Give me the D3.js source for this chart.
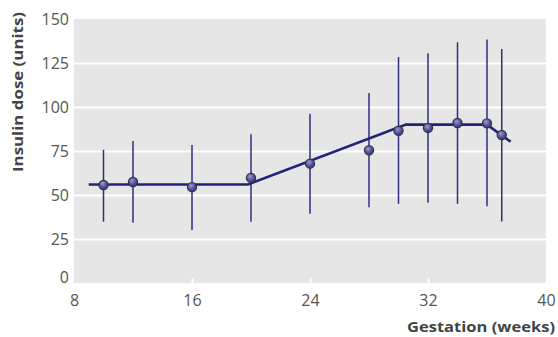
<!DOCTYPE html>
<html><head><meta charset="utf-8">
<script src="https://cdn.jsdelivr.net/npm/d3@7"></script>
<style>body{margin:0;background:#fff;}svg{display:block;}</style>
</head><body>
<svg id="c" width="558" height="337"></svg>
<script>
const weeks = [10, 12, 16, 20, 24, 28, 30, 32, 34, 36, 37];
const dose = [55.7, 57.4, 54.5, 59.7, 67.8, 75.4, 86.5, 88.1, 90.9, 90.7, 84.1];
const upper = [75.7, 80.7, 78.4, 84.5, 96.2, 108, 128.4, 130.5, 136.8, 138.4, 133];
const lower = [34.8, 34.3, 30.1, 34.8, 39.4, 43, 45, 45.6, 45, 43.6, 35];
const fitWeeks = [9, 19.8, 30.5, 36, 37.6];
const fitDose = [56, 56, 90, 90, 80.3];
const xTicks = [8, 16, 24, 32, 40];
const yTicks = [0, 25, 50, 75, 100, 125, 150];

const svg = d3.select("#c");
const L = 74, R = 546, T = 19, B = 283;
const x = d3.scaleLinear().domain([8, 40]).range([L, R]);
const y = d3.scaleLinear().domain([0, 150]).range([B, T]);

const defs = svg.append("defs");
const g = defs.append("radialGradient").attr("id", "pt").attr("cx", "40%").attr("cy", "35%").attr("r", "65%");
g.append("stop").attr("offset", "0%").attr("stop-color", "#9a9ad0");
g.append("stop").attr("offset", "60%").attr("stop-color", "#54549a");
g.append("stop").attr("offset", "100%").attr("stop-color", "#3a3a78");

svg.append("rect").attr("x", L).attr("y", T).attr("width", R - L).attr("height", B - T).attr("fill", "#e6e6e6");

// horizontal gridlines
const yAxis = d3.axisLeft(y).tickValues(yTicks).tickSize(-(R - L)).tickPadding(5);
const ya = svg.append("g").attr("transform", `translate(${L},0)`).call(yAxis);
ya.select(".domain").remove();
ya.selectAll(".tick line").attr("stroke", "#fff").attr("stroke-width", 2)
  .filter(d => d === 0 || d === 150).remove();
ya.selectAll(".tick text").attr("fill", "#555").style("font-family", "'Open Sans', sans-serif").style("font-size", "16px");
ya.selectAll(".tick text").filter(d => d === 0).attr("y", -6);

const xAxis = d3.axisBottom(x).tickValues(xTicks).tickSize(-5).tickPadding(12);
const xa = svg.append("g").attr("transform", `translate(0,${B})`).call(xAxis);
xa.select(".domain").remove();
xa.selectAll(".tick line").attr("stroke", "#fff").attr("stroke-width", 2)
  .filter(d => d === 8 || d === 40).remove();
xa.selectAll(".tick text").attr("fill", "#555").style("font-family", "'Open Sans', sans-serif").style("font-size", "16px");

// error bars
svg.append("g").selectAll("line").data(weeks).join("line")
  .attr("x1", d => x(d)).attr("x2", d => x(d))
  .attr("y1", (d, i) => y(lower[i])).attr("y2", (d, i) => y(upper[i]))
  .attr("stroke", "#2e2e80").attr("stroke-width", 1.5);

// fitted line
const line = d3.line().x(d => x(d[0])).y(d => y(d[1]));
svg.append("path").datum(fitWeeks.map((w, i) => [w, fitDose[i]]))
  .attr("d", line).attr("fill", "none").attr("stroke", "#22227a").attr("stroke-width", 2.6);

// points
svg.append("g").selectAll("circle").data(weeks).join("circle")
  .attr("cx", d => x(d)).attr("cy", (d, i) => y(dose[i])).attr("r", 4.6)
  .attr("fill", "url(#pt)").attr("stroke", "#333348").attr("stroke-width", 1.2);

svg.append("text").attr("x", 555).attr("y", 332).attr("text-anchor", "end")
  .attr("fill", "#444").style("font-family", "'Open Sans', sans-serif").style("font-weight", "bold").style("font-size", "15px")
  .attr("textLength", 148).attr("lengthAdjust", "spacingAndGlyphs")
  .text("Gestation (weeks)");
svg.append("text").attr("transform", "translate(23,92) rotate(-90)").attr("text-anchor", "middle")
  .attr("fill", "#444").style("font-family", "'Open Sans', sans-serif").style("font-weight", "bold").style("font-size", "15px")
  .attr("textLength", 160).attr("lengthAdjust", "spacingAndGlyphs")
  .text("Insulin dose (units)");
</script>
</body></html>
